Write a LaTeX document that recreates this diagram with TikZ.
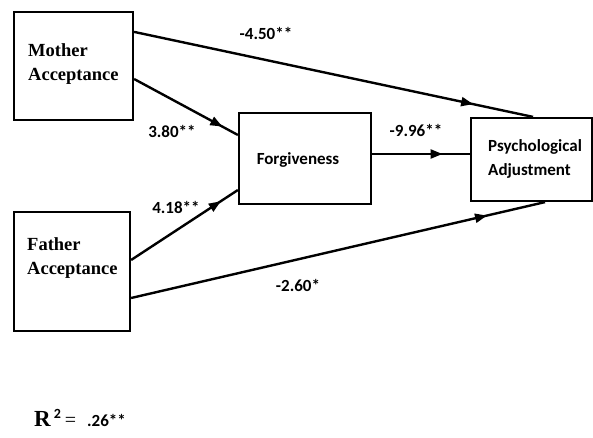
\documentclass[tikz,border=0pt]{standalone}
\usepackage{fontspec}
\setmainfont{Liberation Serif}
\newfontfamily\calfont{Carlito}
\usetikzlibrary{arrows.meta,decorations.markings}
\begin{document}
\begin{tikzpicture}[x=1pt,y=-1pt,
  box/.style={draw,line width=2.2pt,inner sep=0pt},
  conn/.style={line width=2.4pt},
  midarrow/.style={postaction={decorate},decoration={markings,mark=at position #1 with {\arrow{Triangle[length=12pt,width=9pt]}}}},
  serlab/.style={font=\fontsize{18.5}{24}\selectfont\bfseries,align=left,anchor=west,inner sep=0pt},
  sanslab/.style={font=\calfont\fontsize{17}{24}\selectfont\bfseries,align=left,inner sep=0pt},
  coef/.style={font=\calfont\fontsize{17}{20}\selectfont\bfseries,inner sep=0pt}]
\useasboundingbox (0,0) rectangle (593,438);
% boxes
\node[box,minimum width=119pt,minimum height=108pt] (mother) at (73.5,66) {};
\node[box,minimum width=116pt,minimum height=119pt] (father) at (72,271.5) {};
\node[box,minimum width=132pt,minimum height=91pt] (forg) at (305,158.5) {};
\node[box,minimum width=121pt,minimum height=83pt] (psych) at (531.5,159.5) {};
% box texts
\node[serlab] (mothertxt) at (28,64) {Mother\\Acceptance};
\node[serlab] (fathertxt) at (27,258.5) {Father\\Acceptance};
\node[sanslab] (forgtxt) at (298,160) {Forgiveness};
\node[sanslab,anchor=west] (psychtxt) at (488,159) {Psychological\\Adjustment};
% connectors
\draw[conn,midarrow=0.85] ([yshift=-21pt]mother.north east) -- ([xshift=1.5pt]psych.north);
\draw[conn,midarrow=0.85] ([yshift=-13pt]mother.east) -- ([yshift=23.5pt]forg.west);
\draw[conn,midarrow=0.84] ([yshift=11.5pt]father.east) -- ([yshift=-31.5pt]forg.west);
\draw[conn,midarrow=0.86] ([yshift=-26.5pt]father.east) -- ([xshift=13.5pt]psych.south);
\draw[conn,midarrow=0.72] ([yshift=4.5pt]forg.east) -- ([yshift=5.5pt]psych.west);
% coefficients
\node[coef] (c1) at (266,33) {-4.50**};
\node[coef] (c2) at (172,131) {3.80**};
\node[coef] (c3) at (176,207) {4.18**};
\node[coef] (c4) at (416,130) {-9.96**};
\node[coef] (c5) at (298,285) {-2.60*};
% R squared
\node[anchor=base west,inner sep=0pt] (rsq) at (34,426) {{\fontsize{23}{23}\selectfont\bfseries R}\kern3pt\raisebox{8pt}{\calfont\bfseries\fontsize{14}{14}\selectfont 2}\kern4pt{\fontsize{20}{20}\selectfont =}\kern11pt{\calfont\bfseries\fontsize{17}{17}\selectfont .26**}};
\end{tikzpicture}
\end{document}
